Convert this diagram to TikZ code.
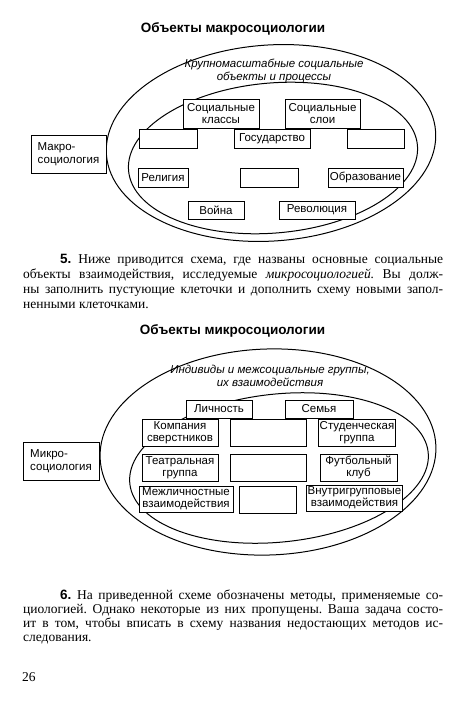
\documentclass[tikz,border=0pt]{standalone}
\usepackage{fontspec}
\setmainfont{Liberation Serif}
\setsansfont{Liberation Sans}
\usetikzlibrary{positioning}
\tikzset{
  cell/.style    = {draw, line width=0.9pt, fill=white, inner sep=1pt, align=center,
                    font=\sffamily\fontsize{11.5}{12}\selectfont},
  side/.style    = {cell, align=left, inner sep=4pt,
                    font=\sffamily\fontsize{11.5}{13}\selectfont},
  oval/.style    = {line width=1pt},
  heading/.style = {font=\sffamily\bfseries\fontsize{13.5}{15}\selectfont, anchor=base},
  note/.style    = {font=\sffamily\itshape\fontsize{11.5}{13}\selectfont, align=center},
  para/.style    = {text width=420pt, align=justify, inner sep=0pt, anchor=north west,
                    font=\fontsize{13.5}{15}\selectfont\frenchspacing}
}

\begin{document}
\begin{tikzpicture}[x=1pt, y=-1pt]
  \useasboundingbox (0,0) rectangle (456,722);
  \fill[white] (0,0) rectangle (456,722);

  % macro level
  \node[heading] (title1) at (233,33) {Объекты макросоциологии};
  \draw[oval, rotate around={4:(271,143)}] (271,143) ellipse [x radius=165pt, y radius=98pt];
  \draw[oval, rotate around={5:(273,158)}] (273,158) ellipse [x radius=145pt, y radius=75pt];
  \node[note] (macronote) at (274,71) {Крупномасштабные социальные\\объекты и процессы};
  \node[side, minimum width=75pt, minimum height=38pt] (makro) at (68.5,154) {Макро-\\социология};
  \node[cell, minimum width=76pt, minimum height=29pt] (klassy) at (221,113.5) {Социальные\\классы};
  \node[cell, minimum width=75pt, minimum height=29pt] (sloi) at (322.5,113.5) {Социальные\\слои};
  \node[cell, minimum width=58pt, minimum height=19pt] (blank1) at (168,138.5) {};
  \node[cell, minimum width=76pt, minimum height=19pt] (gos) at (272,138.5) {Государство};
  \node[cell, minimum width=57pt, minimum height=19pt] (blank2) at (375.5,138.5) {};
  \node[cell, minimum width=50pt, minimum height=19pt] (religia) at (163,177.5) {Религия};
  \node[cell, minimum width=58pt, minimum height=19pt] (blank3) at (269,177.5) {};
  \node[cell, minimum width=75pt, minimum height=19pt] (obraz) at (365.5,177.5) {Образование};
  \node[cell, minimum width=56pt, minimum height=18pt] (voina) at (216,210) {Война};
  \node[cell, minimum width=76pt, minimum height=18pt] (revol) at (317,210) {Революция};

  \node[para] (task5) at (23,254) {\hspace*{37pt}{\sffamily\bfseries 5.} Ниже приводится схема, где названы основные социальные\linebreak
    объекты взаимодействия, исследуемые \textit{микросоциологией.} Вы долж-\linebreak
    ны заполнить пустующие клеточки и дополнить схему новыми запол-\linebreak
    ненными клеточками.};

  % micro level
  \node[heading] (title2) at (232.5,334) {Объекты микросоциологии};
  \draw[oval, rotate around={2:(268,452)}] (268,452) ellipse [x radius=168pt, y radius=103pt];
  \draw[oval, rotate around={6:(279,468)}] (279,468) ellipse [x radius=150pt, y radius=74pt];
  \node[note] (micronote) at (270,376) {Индивиды и межсоциальные группы,\\их взаимодействия};
  \node[side, minimum width=76pt, minimum height=38pt] (mikro) at (61,461) {Микро-\\социология};
  \node[cell, minimum width=66pt, minimum height=18pt] (lichn) at (219,409) {Личность};
  \node[cell, minimum width=68pt, minimum height=18pt] (semya) at (319,409) {Семья};
  \node[cell, minimum width=76pt, minimum height=27pt] (komp) at (180,432.5) {Компания\\сверстников};
  \node[cell, minimum width=76pt, minimum height=27pt] (blankA) at (268,432.5) {};
  \node[cell, minimum width=74pt, minimum height=27pt] (stud) at (357,432.5) {Студенческая\\группа};
  \node[cell, minimum width=76pt, minimum height=27pt] (teatr) at (180,467.5) {Театральная\\группа};
  \node[cell, minimum width=76pt, minimum height=27pt] (blankB) at (268,467.5) {};
  \node[cell, minimum width=77pt, minimum height=27pt] (futb) at (358.5,467.5) {Футбольный\\клуб};
  \node[cell, minimum width=94pt, minimum height=26pt] (mezhl) at (186,499) {Межличностные\\взаимодействия};
  \node[cell, minimum width=57pt, minimum height=27pt] (blankC) at (267.5,499.5) {};
  \node[cell, minimum width=95pt, minimum height=26pt] (vnutr) at (354.5,498) {Внутригрупповые\\взаимодействия};

  \node[para, font=\fontsize{13.5}{14}\selectfont\frenchspacing] (task6) at (23,590) {\hspace*{37pt}{\sffamily\bfseries 6.} На приведенной схеме обозначены методы, применяемые со-\linebreak
    циологией. Однако некоторые из них пропущены. Ваша задача состо-\linebreak
    ит в том, чтобы вписать в схему названия недостающих методов ис-\linebreak
    следования.};

  \node[anchor=base west, inner sep=0pt, font=\fontsize{13.5}{15}\selectfont] (page) at (22,681.5) {26};
\end{tikzpicture}
\end{document}
